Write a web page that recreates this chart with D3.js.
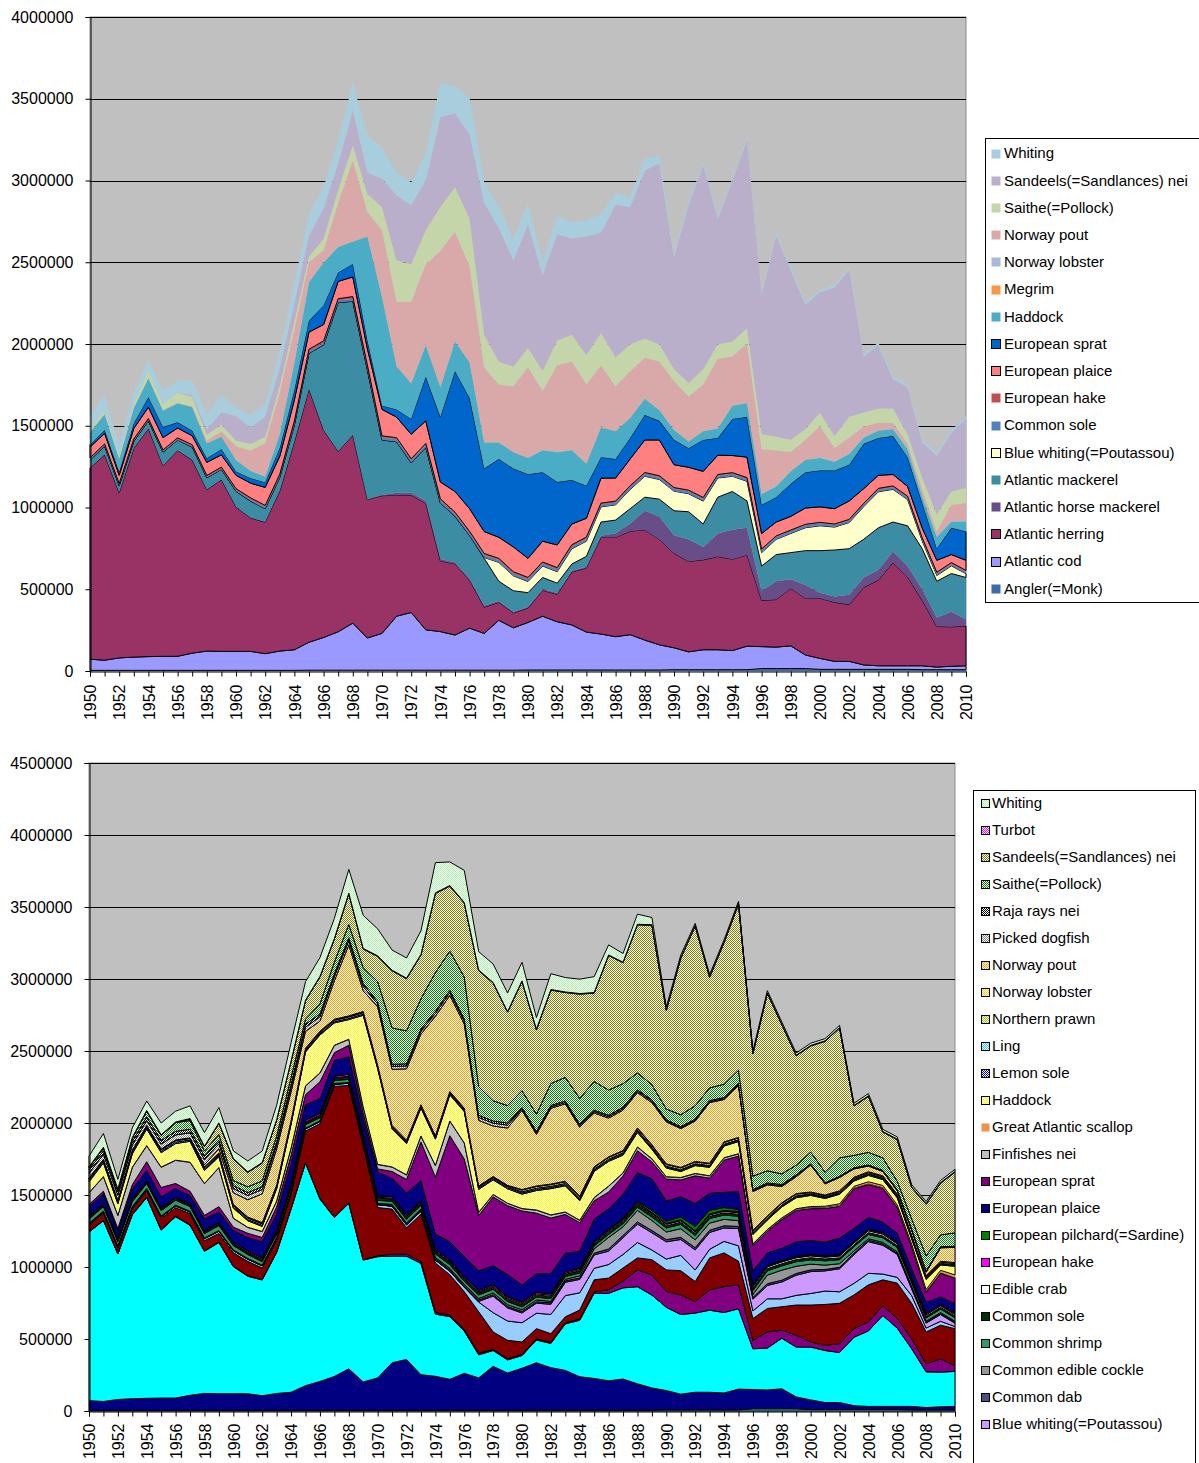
<!DOCTYPE html>
<html><head><meta charset="utf-8">
<script src="https://cdnjs.cloudflare.com/ajax/libs/d3/7.8.5/d3.min.js"></script>
<style>body{margin:0;background:#fff;} svg{display:block;font-family:"Liberation Sans",Arial,sans-serif;}</style>
</head><body>
<svg id="c" width="1199" height="1463"></svg>
<script>
// ---- categories / tick labels ----
const years = [1950,1951,1952,1953,1954,1955,1956,1957,1958,1959,1960,1961,1962,1963,1964,1965,1966,1967,1968,1969,
1970,1971,1972,1973,1974,1975,1976,1977,1978,1979,1980,1981,1982,1983,1984,1985,1986,1987,1988,1989,
1990,1991,1992,1993,1994,1995,1996,1997,1998,1999,2000,2001,2002,2003,2004,2005,2006,2007,2008,2009,2010];
const xTickLabels = ['1950','1952','1954','1956','1958','1960','1962','1964','1966','1968','1970','1972','1974','1976','1978','1980','1982','1984','1986','1988','1990','1992','1994','1996','1998','2000','2002','2004','2006','2008','2010'];
const topYTicks = [0,500000,1000000,1500000,2000000,2500000,3000000,3500000,4000000];
const bottomYTicks = [0,500000,1000000,1500000,2000000,2500000,3000000,3500000,4000000,4500000];

// ---- series values (thousand tonnes) ----
const angler = [4,4,4,4,4,4,4,4,4,4, 4,4,4,4,4,5,5,5,5,5, 5,5,5,5,5,5,5,5,5,5, 6,6,6,6,6,6,6,6,6,6, 8,8,8,8,8,8,15,15,15,15, 10,10,10,10,10,10,10,8,8,8,8];
const cod = [68,62,76,81,84,86,86,105,118,116, 116,116,102,118,126,171,200,235,288,197, 225,330,353,247,236,215,257,225,305,259, 291,329,295,276,232,220,204,216,183,154, 134,109,122,122,117,144,134,131,139,83, 67,49,49,27,22,22,22,24,16,21,24];
const herring = [1170,1256,1010,1277,1394,1166,1259,1181,987,1050, 883,816,804,979,1272,1546,1267,1103,1149,846, 842,740,717,773,432,435,293,160,110,91, 88,158,168,323,392,591,607,633,674,645, 578,553,550,570,559,558,283,291,351,346, 367,361,347,475,524,631,543,400,248,241,243];
const horseMackerel = [3,3,3,3,3,3,3,3,3,3, 3,3,3,3,3,3,3,3,3,3, 5,15,15,15,12,10,10,10,8,8, 8,8,8,8,8,10,25,47,117,140, 110,136,79,141,180,166,59,112,56,82, 35,36,61,60,63,68,67,70,55,92,40];
const mackerel = [45,50,40,40,45,80,60,77,70,60, 93,100,80,80,100,219,520,908,816,790, 336,312,183,327,343,281,264,289,121,128, 86,71,60,41,63,84,81,91,83,106, 150,168,140,222,234,164,151,163,163,210, 257,284,281,234,257,180,246,246,222,234,257];
const blueWhiting = [0,0,0,0,0,0,0,0,0,0, 0,0,0,0,0,0,0,0,0,0, 0,0,0,0,0,0,0,5,115,91, 68,70,70,93,93,93,93,117,128,120, 120,110,140,117,93,120,82,93,117,140, 152,140,160,200,220,200,160,47,35,47,23];
const commonSole = [6,6,6,6,6,6,6,6,6,6, 8,10,10,10,12,12,12,12,16,15, 15,15,15,15,15,15,15,15,15,15, 15,15,15,15,15,15,15,15,15,15, 15,15,15,15,15,15,15,15,15,15, 15,13,13,13,13,13,13,12,12,12,12];
const hake = [8,8,8,8,8,7,8,8,8,8, 8,10,10,10,12,12,12,11,13,15, 10,10,10,10,10,10,10,10,10,10, 10,10,10,10,10,8,8,8,8,8, 7,7,7,7,7,8,7,6,6,6, 6,6,6,7,8,8,8,8,8,8,8];
const plaice = [65,65,50,65,70,75,60,55,80,75, 82,90,110,110,130,105,100,106,120,100, 162,126,150,138,103,127,139,134,129,152, 117,127,139,127,115,153,141,164,199,219, 140,140,160,118,105,125,95,85,84,100, 95,94,113,90,80,70,60,60,73,49,62];
const sprat = [15,20,20,30,60,65,35,30,25,35, 23,30,30,50,60,70,117,55,80,50, 23,47,94,269,397,736,677,385,478,479, 514,421,385,269,199,128,116,128,152,117, 152,117,192,105,224,245,175,152,199,218, 222,233,221,274,228,235,179,153,71,164,176];
const haddock = [75,95,80,93,115,100,115,145,90,75, 70,45,35,85,165,235,263,155,136,637, 665,264,217,193,182,181,217,159,101,100, 100,135,182,182,135,182,171,123,100,65, 60,41,54,58,81,84,65,65,76,76, 77,54,66,37,44,41,49,37,71,37,60];
const megrim = [2,2,2,2,2,2,2,2,2,2, 2,2,2,2,2,2,2,2,2,2, 2,2,2,2,2,2,2,2,2,2, 2,2,2,2,2,2,2,2,2,2, 2,2,2,2,2,2,2,2,2,2, 2,2,2,3,3,3,3,3,3,3,3];
const norwayLobster = [2,2,2,2,2,2,2,2,2,2, 3,3,3,3,3,3,3,3,3,3, 3,3,3,3,3,3,3,3,3,3, 4,4,4,4,4,4,4,4,4,4, 4,4,4,4,4,4,4,4,4,4, 5,5,5,7,7,7,7,7,7,7,7];
const norwayPout = [0,0,0,0,0,0,0,0,15,30, 80,120,200,250,200,117,70,266,492,144, 405,390,495,491,829,667,584,455,350,398, 549,358,526,537,479,373,269,280,245,292, 292,269,280,421,294,360,269,215,113,117, 187,77,93,58,39,30,23,35,24,93,105];
const saithe = [15,20,15,25,40,35,61,60,35,40, 35,40,40,40,50,35,70,80,93,110, 140,252,229,210,269,273,292,199,140,121, 117,121,152,164,180,199,175,164,117,105, 75,82,93,88,92,93,93,84,74,66, 82,74,128,86,87,87,58,70,105,82,93];
const sandeels = [0,0,0,0,0,0,0,10,30,76, 150,100,123,110,110,128,187,160,213,130, 175,397,362,304,549,451,514,806,818,649, 759,586,649,589,724,614,934,840,1028,1107, 685,1087,1247,768,984,1153,850,1232,1036,760, 737,908,901,343,389,179,289,218,359,359,422];
const whiting = [75,95,66,66,66,82,75,88,94,106, 52,75,80,100,126,128,130,140,165,230, 187,140,140,163,210,164,222,128,128,129, 129,80,110,100,100,110,70,60,70,50, 20,18,15,15,15,15,15,15,15,15, 15,15,15,15,15,15,15,15,15,15,15];
// species only in the lower chart
const blueMussel = [8,8,8,10,10,10,12,12,15,15, 15,15,15,15,15,15,15,15,15,15, 20,20,20,20,20,25,30,67,134,134, 134,107,134,147,120,80,94,94,107,67, 75,107,80,60,80,107,53,67,55,67, 80,93,80,80,80,40,40,53,27,27,15];
const commonDab = [5,5,5,5,5,5,5,5,5,5, 5,5,5,5,5,5,5,5,5,5, 6,8,8,8,10,10,10,10,10,10, 10,10,10,10,10,12,15,15,15,15, 15,15,15,15,15,15,12,12,12,12, 12,10,10,10,10,10,8,8,8,8,8];
const cockle = [0,0,0,0,0,0,0,0,0,0, 0,0,0,0,0,0,0,0,0,0, 2,5,5,8,8,10,10,10,12,12, 12,12,10,10,15,30,80,60,80,70, 53,60,55,50,45,40,20,60,70,50, 40,30,25,15,10,10,10,8,5,5,5];
const commonShrimp = [30,32,30,35,35,38,35,33,30,35, 30,28,25,25,28,25,22,22,22,20, 22,22,25,25,25,25,22,25,25,22, 20,20,20,20,20,20,22,22,22,25, 28,30,30,32,30,30,28,30,30,32, 30,30,28,30,30,32,30,28,22,25,25];
const edibleCrab = [5,5,5,5,5,5,5,5,5,5, 5,5,5,5,5,6,6,6,6,6, 6,6,6,6,6,6,6,6,8,8, 8,8,8,8,8,8,8,8,8,8, 10,10,10,10,10,10,12,12,12,12, 12,12,12,12,12,12,12,10,10,10,10];
const pilchard = [2,2,2,2,2,2,2,2,2,2, 2,2,2,2,2,2,2,2,2,2, 2,2,2,2,2,2,2,2,2,2, 2,2,2,2,2,2,5,8,10,15, 15,20,30,25,20,15,8,5,5,5, 5,5,5,5,5,5,5,5,5,5,5];
const finfishes = [80,100,90,120,110,140,160,200,220,270, 60,40,40,40,50,60,60,50,40,40, 30,30,30,40,80,100,110,20,15,15, 15,20,20,15,15,20,40,20,25,20, 15,15,15,15,15,15,10,10,10,10, 10,10,10,8,8,8,8,6,6,6,6];
const scallop = [2,2,2,2,2,2,2,2,2,2, 2,2,2,2,2,2,2,2,2,2, 2,2,2,2,2,2,2,2,2,2, 2,2,2,2,2,2,2,2,2,2, 2,2,2,2,2,2,2,2,2,2, 5,6,8,10,12,12,10,12,12,15,18];
const lemonSole = [10,10,9,10,10,10,10,9,10,10, 8,8,8,8,8,8,8,8,8,8, 8,8,8,8,8,8,8,8,8,8, 8,8,8,8,8,8,8,8,8,8, 7,7,7,7,7,7,7,7,7,7, 6,6,6,6,6,6,6,6,6,6,6];
const ling = [10,10,10,10,10,10,10,10,10,10, 10,10,10,10,10,10,10,10,10,10, 8,8,8,8,8,8,8,8,8,8, 8,8,8,8,8,8,8,8,8,8, 6,6,6,6,6,6,6,6,6,6, 5,5,5,5,5,5,5,5,5,5,5];
const northernPrawn = [3,3,3,3,3,3,3,3,3,3, 5,5,5,5,5,5,5,5,5,5, 5,5,5,5,5,5,5,5,5,5, 12,12,12,12,12,12,12,12,12,12, 12,12,12,12,12,12,12,12,12,12, 8,8,8,8,8,8,8,8,8,8,8];
const dogfish = [35,35,35,35,35,35,35,35,35,35, 30,30,30,30,30,30,30,30,30,30, 20,20,20,20,20,20,20,20,20,20, 10,10,10,10,10,10,10,10,10,10, 6,6,6,6,6,6,6,6,6,6, 3,3,3,3,3,3,3,3,3,3,3];
const rays = [25,25,25,25,25,25,25,25,25,25, 20,20,20,20,20,20,20,20,20,20, 15,15,15,15,15,15,15,15,15,15, 10,10,10,10,10,10,10,10,10,10, 8,8,8,8,8,8,8,8,8,8, 5,5,5,5,5,5,5,5,5,5,5];
const turbot = [4,4,4,4,4,4,4,4,4,4, 4,4,4,4,4,4,4,4,4,4, 4,4,4,4,4,4,4,4,4,4, 4,4,4,4,4,4,4,4,4,4, 4,4,4,4,4,4,4,4,4,4, 4,4,4,4,4,4,4,4,4,4,4];

const svg = d3.select('#c');
const defs = svg.append('defs');
function addChecker(id, fg, bg) {
  const p = defs.append('pattern').attr('id', id).attr('patternUnits','userSpaceOnUse').attr('width',2).attr('height',2);
  p.append('rect').attr('width',2).attr('height',2).attr('fill',bg);
  p.append('rect').attr('x',0).attr('y',0).attr('width',1).attr('height',1).attr('fill',fg);
  p.append('rect').attr('x',1).attr('y',1).attr('width',1).attr('height',1).attr('fill',fg);
}
addChecker('p-haddock','#FFFF00','#FFFFFF');
addChecker('p-lemon','#0000FF','#FFFFFF');
addChecker('p-ling','#33CCFF','#FFFFFF');
addChecker('p-prawn','#99CC00','#FFFFFF');
addChecker('p-lobster','#FFCC00','#FFFFFF');
addChecker('p-pout','#FF9900','#FFFFFF');
addChecker('p-dogfish','#808080','#FFFFFF');
addChecker('p-rays','#000000','#FFFFFF');
addChecker('p-saithe','#008000','#FFFFFF');
addChecker('p-sandeels','#808000','#FFFFFF');
addChecker('p-turbot','#FF00FF','#FFFFFF');
addChecker('p-whiting','#A8F5A8','#FFFFFF');

const topSeries = [
  {name:'Angler(=Monk)', v:angler, fill:'#3F6BA6'},
  {name:'Atlantic cod', v:cod, fill:'#9999FF', stroke:true},
  {name:'Atlantic herring', v:herring, fill:'#993366', stroke:true},
  {name:'Atlantic horse mackerel', v:horseMackerel, fill:'#684E88'},
  {name:'Atlantic mackerel', v:mackerel, fill:'#3C8DA3'},
  {name:'Blue whiting(=Poutassou)', v:blueWhiting, fill:'#FFFFCC', stroke:true},
  {name:'Common sole', v:commonSole, fill:'#4F81BD'},
  {name:'European hake', v:hake, fill:'#C0504D'},
  {name:'European plaice', v:plaice, fill:'#FF8080', stroke:true},
  {name:'European sprat', v:sprat, fill:'#0066CC', stroke:true},
  {name:'Haddock', v:haddock, fill:'#4BACC6'},
  {name:'Megrim', v:megrim, fill:'#F79646'},
  {name:'Norway lobster', v:norwayLobster, fill:'#A9B8DA'},
  {name:'Norway pout', v:norwayPout, fill:'#D9A9A9'},
  {name:'Saithe(=Pollock)', v:saithe, fill:'#C4D6A9'},
  {name:'Sandeels(=Sandlances) nei', v:sandeels, fill:'#B9AFCB'},
  {name:'Whiting', v:whiting, fill:'#A8CEDE'}
];
const bottomSeries = [
  {name:'Angler(=Monk)', v:angler, fill:'#33CCCC', stroke:true},
  {name:'Atlantic cod', v:cod, fill:'#000080', stroke:true},
  {name:'Atlantic herring', v:herring, fill:'#00FFFF', stroke:true},
  {name:'Atlantic horse mackerel', v:horseMackerel, fill:'#800080', stroke:true},
  {name:'Atlantic mackerel', v:mackerel, fill:'#800000', stroke:true},
  {name:'Blue mussel', v:blueMussel, fill:'#99CCFF', stroke:true},
  {name:'Blue whiting(=Poutassou)', v:blueWhiting, fill:'#CC99FF', stroke:true},
  {name:'Common dab', v:commonDab, fill:'#4D4D8A', stroke:true},
  {name:'Common edible cockle', v:cockle, fill:'#969696', stroke:true},
  {name:'Common shrimp', v:commonShrimp, fill:'#339966', stroke:true},
  {name:'Common sole', v:commonSole, fill:'#003300', stroke:true},
  {name:'Edible crab', v:edibleCrab, fill:'#FFFFFF', stroke:true},
  {name:'European hake', v:hake, fill:'#FF00FF', stroke:true},
  {name:'European pilchard(=Sardine)', v:pilchard, fill:'#008000', stroke:true},
  {name:'European plaice', v:plaice, fill:'#000080', stroke:true},
  {name:'European sprat', v:sprat, fill:'#800080', stroke:true},
  {name:'Finfishes nei', v:finfishes, fill:'#C0C0C0', stroke:true},
  {name:'Great Atlantic scallop', v:scallop, fill:'#F0904A'},
  {name:'Haddock', v:haddock, fill:'url(#p-haddock)', stroke:true},
  {name:'Lemon sole', v:lemonSole, fill:'url(#p-lemon)', stroke:true},
  {name:'Ling', v:ling, fill:'url(#p-ling)', stroke:true},
  {name:'Northern prawn', v:northernPrawn, fill:'url(#p-prawn)', stroke:true},
  {name:'Norway lobster', v:norwayLobster, fill:'url(#p-lobster)', stroke:true},
  {name:'Norway pout', v:norwayPout, fill:'url(#p-pout)', stroke:true},
  {name:'Picked dogfish', v:dogfish, fill:'url(#p-dogfish)', stroke:true},
  {name:'Raja rays nei', v:rays, fill:'url(#p-rays)', stroke:true},
  {name:'Saithe(=Pollock)', v:saithe, fill:'url(#p-saithe)', stroke:true},
  {name:'Sandeels(=Sandlances) nei', v:sandeels, fill:'url(#p-sandeels)', stroke:true},
  {name:'Turbot', v:turbot, fill:'url(#p-turbot)', stroke:true},
  {name:'Whiting', v:whiting, fill:'url(#p-whiting)', stroke:true}
];

function drawChart(cfg) {
  const g = svg.append('g');
  const x = d3.scaleLinear().domain([1950, 2010]).range([cfg.x0, cfg.x1]);
  const y = d3.scaleLinear().domain([0, cfg.maxV]).range([cfg.yB, cfg.yT]);
  g.append('rect').attr('x', cfg.x0).attr('y', cfg.yT).attr('width', cfg.x1 - cfg.x0).attr('height', cfg.yB - cfg.yT)
    .attr('fill', '#C0C0C0').attr('stroke', '#8C8C8C').attr('stroke-width', 1);
  cfg.ticks.forEach(t => {
    if (t === 0) return;
    g.append('line').attr('x1', cfg.x0).attr('x2', cfg.x1).attr('y1', Math.round(y(t)) + 0.5).attr('y2', Math.round(y(t)) + 0.5)
      .attr('stroke', '#000').attr('stroke-width', 1);
  });
  const keys = cfg.series.map(s => s.name);
  const table = years.map((yr, i) => {
    const o = {year: yr};
    cfg.series.forEach(s => { o[s.name] = s.v[i] * 1000; });
    return o;
  });
  const stacked = d3.stack().keys(keys)(table);
  const area = d3.area().x(d => x(d.data.year)).y0(d => y(d[0])).y1(d => y(d[1]));
  stacked.forEach((layer, k) => {
    const s = cfg.series[k];
    g.append('path').datum(layer).attr('d', area).attr('fill', s.fill)
      .attr('stroke', s.stroke ? '#000' : 'none').attr('stroke-width', s.stroke ? cfg.sw : 0)
      .attr('stroke-linejoin', 'miter');
  });
  // y axis
  const yAxis = d3.axisLeft(y).tickValues(cfg.ticks).tickSize(5).tickPadding(12).tickFormat(d3.format('d'));
  const ya = g.append('g').attr('transform', `translate(${cfg.x0 + 0.5},0)`).call(yAxis);
  ya.selectAll('text').attr('font-size', 16).attr('font-family', '"Liberation Sans",Arial,sans-serif').attr('fill', '#000');
  ya.selectAll('path,line').attr('stroke', '#000');
  // x axis
  const labelSet = new Set(xTickLabels);
  const xAxis = d3.axisBottom(x).tickValues(years).tickSize(5).tickFormat(d => labelSet.has(String(d)) ? String(d) : '');
  const xa = g.append('g').attr('transform', `translate(0,${cfg.yB + 0.5})`).call(xAxis);
  xa.selectAll('path,line').attr('stroke', '#000');
  xa.selectAll('text').attr('font-size', 16).attr('font-family', '"Liberation Sans",Arial,sans-serif').attr('fill', '#000')
    .attr('transform', 'rotate(-90)').attr('text-anchor', 'end').attr('x', -cfg.labelOff).attr('y', 0).attr('dy', '0.36em');
  // legend (entries that fall below the visible area are not drawn, as in the reference)
  const lg = svg.append('g');
  lg.append('rect').attr('x', cfg.lx + 0.5).attr('y', cfg.ly + 0.5).attr('width', cfg.lw).attr('height', cfg.lh)
    .attr('fill', '#fff').attr('stroke', '#000').attr('stroke-width', 1);
  const items = cfg.series.slice().reverse();
  items.forEach((s, i) => {
    const cy = cfg.ly0 + i * cfg.lstep;
    if (cy > cfg.lmaxY) return;
    lg.append('rect').attr('x', cfg.sx + 0.5).attr('y', Math.round(cy - cfg.ss / 2) + 0.5).attr('width', cfg.ss).attr('height', cfg.ss)
      .attr('fill', s.fill).attr('stroke', s.stroke ? '#000' : 'none').attr('stroke-width', 1);
    lg.append('text').attr('x', cfg.tx).attr('y', cy).attr('dy', '0.36em').attr('font-size', 15).attr('fill', '#000').text(s.name);
  });
}

drawChart({x0:90, x1:966, yT:17, yB:671, maxV:4000000, ticks:topYTicks, series:topSeries, sw:1, labelOff:13,
  lx:985, ly:138, lw:230, lh:464, ly0:153, lstep:27.2, sx:991, ss:9, tx:1004, lmaxY:700});
drawChart({x0:89, x1:955, yT:763, yB:1411, maxV:4500000, ticks:bottomYTicks, series:bottomSeries, sw:1, labelOff:12,
  lx:973, ly:790, lw:222, lh:900, ly0:803, lstep:27.0, sx:981, ss:8, tx:992, lmaxY:1430});
</script>
</body></html>
